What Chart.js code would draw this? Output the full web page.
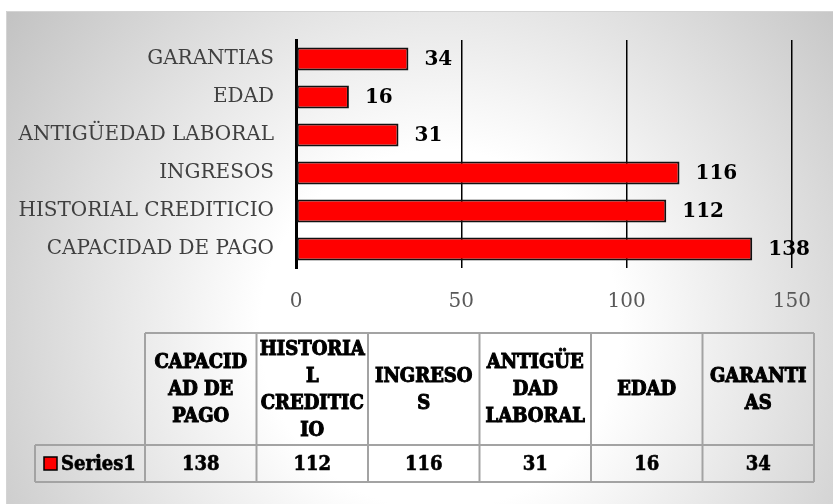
<!DOCTYPE html>
<html>
<head>
<meta charset="utf-8">
<script src="https://cdn.jsdelivr.net/npm/chart.js@4/dist/chart.umd.min.js"></script>
<style>
  html, body { margin: 0; padding: 0; background: #ffffff; }
  #wrap { width: 833px; height: 504px; position: relative; }
</style>
</head>
<body>
<div id="wrap"><canvas id="c" width="833" height="504"></canvas></div>
<script>
// ---- data ----
const categories = ['CAPACIDAD DE PAGO', 'HISTORIAL CREDITICIO', 'INGRESOS', 'ANTIGÜEDAD LABORAL', 'EDAD', 'GARANTIAS'];
const values = [138, 112, 116, 31, 16, 34];
const seriesName = 'Series1';
const xTickValues = [0, 50, 100, 150];
const tableHeaderLines = [
  ['CAPACID', 'AD DE', 'PAGO'],
  ['HISTORIA', 'L', 'CREDITIC', 'IO'],
  ['INGRESO', 'S'],
  ['ANTIGÜE', 'DAD', 'LABORAL'],
  ['EDAD'],
  ['GARANTI', 'AS']
];

const SERIF = "'DejaVu Serif', 'Liberation Serif', serif";
const CSERIF = "'DejaVu Serif Condensed', 'DejaVu Serif', 'Liberation Serif', serif";

const backgroundPlugin = {
  id: 'bg',
  beforeDraw(chart) {
    const ctx = chart.ctx;
    ctx.save();
    ctx.fillStyle = '#ffffff';
    ctx.fillRect(0, 0, chart.width, chart.height);
    const g = ctx.createRadialGradient(440, 330, 0, 440, 330, 545);
    g.addColorStop(0, '#ffffff');
    g.addColorStop(0.33, '#ffffff');
    g.addColorStop(1, '#c1c1c1');
    ctx.fillStyle = g;
    ctx.fillRect(6, 11, chart.width - 6, chart.height - 11);
    ctx.strokeStyle = '#d4d4d4';
    ctx.lineWidth = 1;
    ctx.beginPath();
    ctx.moveTo(6.5, chart.height);
    ctx.lineTo(6.5, 11.5);
    ctx.lineTo(chart.width, 11.5);
    ctx.stroke();
    ctx.restore();
  }
};

const labelPlugin = {
  id: 'barLabels',
  afterDatasetsDraw(chart) {
    const ctx = chart.ctx;
    const meta = chart.getDatasetMeta(0);
    ctx.save();
    ctx.font = 'bold 20px ' + SERIF;
    ctx.fillStyle = '#000000';
    ctx.textAlign = 'left';
    ctx.textBaseline = 'middle';
    meta.data.forEach((el, i) => {
      ctx.fillText(String(values[i]), el.x + 16, el.y + 1);
    });
    ctx.restore();
  }
};

const tablePlugin = {
  id: 'dataTable',
  afterDraw(chart) {
    const ctx = chart.ctx;
    const left = 145, colW = 111.5, top = 333, headBottom = 445, bottom = 482, legLeft = 35;
    const n = categories.length;
    const right = left + colW * n;
    ctx.save();
    ctx.strokeStyle = '#a3a3a3';
    ctx.lineWidth = 2;
    ctx.beginPath();
    ctx.moveTo(left, top); ctx.lineTo(right, top);
    ctx.moveTo(legLeft, headBottom); ctx.lineTo(right, headBottom);
    ctx.moveTo(legLeft, bottom); ctx.lineTo(right, bottom);
    ctx.moveTo(legLeft, headBottom); ctx.lineTo(legLeft, bottom);
    for (let i = 0; i <= n; i++) {
      const x = left + colW * i;
      ctx.moveTo(x, top); ctx.lineTo(x, bottom);
    }
    ctx.stroke();

    // header text
    ctx.fillStyle = '#000000';
    ctx.strokeStyle = '#000000';
    ctx.lineWidth = 1.0;
    ctx.textAlign = 'center';
    ctx.textBaseline = 'middle';
    ctx.font = 'bold 20px ' + CSERIF;
    try { ctx.fontStretch = 'condensed'; } catch (e) {}
    const lh = 27;
    const midH = (top + headBottom) / 2 + 1;
    tableHeaderLines.forEach((lines, i) => {
      const cx = left + colW * i + colW / 2;
      const y0 = midH - (lines.length - 1) * lh / 2;
      lines.forEach((t, k) => {
        ctx.fillText(t, cx, y0 + k * lh);
        ctx.strokeText(t, cx, y0 + k * lh);
      });
    });

    // values row
    const midR = (headBottom + bottom) / 2 + 1;
    ctx.lineWidth = 0.6;
    values.forEach((v, i) => {
      const cx = left + colW * i + colW / 2;
      ctx.fillText(String(v), cx, midR);
      ctx.strokeText(String(v), cx, midR);
    });

    // legend key + series name
    ctx.fillStyle = '#ff0000';
    ctx.fillRect(44, 457, 13, 13);
    ctx.strokeStyle = '#000000';
    ctx.lineWidth = 1.5;
    ctx.strokeRect(44, 457, 13, 13);
    ctx.fillStyle = '#000000';
    ctx.textAlign = 'left';
    ctx.lineWidth = 0.6;
    ctx.fillText(seriesName, 61, midR);
    ctx.strokeText(seriesName, 61, midR);
    ctx.restore();
  }
};

new Chart(document.getElementById('c'), {
  type: 'bar',
  data: {
    labels: categories,
    datasets: [{
      label: seriesName,
      data: values,
      backgroundColor: '#ff0000',
      borderColor: '#111111',
      borderWidth: 2,
      borderSkipped: false,
      barPercentage: 0.6,
      categoryPercentage: 1.0
    }]
  },
  options: {
    indexAxis: 'y',
    responsive: false,
    animation: false,
    devicePixelRatio: 1,
    layout: { padding: { left: 0, top: 40, right: 39, bottom: 0 } },
    plugins: {
      legend: { display: false },
      tooltip: { enabled: false }
    },
    scales: {
      x: {
        min: 0,
        max: 150,
        afterBuildTicks: (s) => { s.ticks = xTickValues.map(v => ({ value: v })); },
        afterFit: (s) => { s.height = 236; },
        grid: { color: '#000000', lineWidth: 1.5, drawTicks: false },
        border: { display: false },
        ticks: {
          padding: 22,
          color: '#595959',
          font: { family: SERIF, size: 20 }
        }
      },
      y: {
        reverse: true,
        afterFit: (s) => { s.width = 296; },
        grid: { display: false, drawTicks: false },
        border: { display: true, color: '#000000', width: 3 },
        ticks: {
          padding: 22,
          color: '#404040',
          font: { family: SERIF, size: 20 }
        }
      }
    }
  },
  plugins: [backgroundPlugin, labelPlugin, tablePlugin]
});
</script>
</body>
</html>
